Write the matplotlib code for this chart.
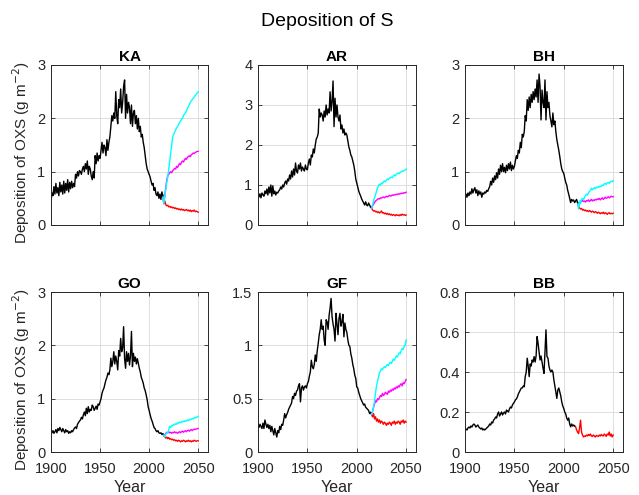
import numpy as np
import matplotlib
matplotlib.use("Agg")
import matplotlib.pyplot as plt
from matplotlib.ticker import FuncFormatter

plt.rcParams['font.family'] = ['Liberation Sans', 'DejaVu Sans']

# ---------------- data ----------------
sites = ["KA", "AR", "BH", "GO", "GF", "BB"]
hist_start = 1900
scen_start = 2014

ka_hist = [0.45,0.60,0.55,0.72,0.58,0.78,0.60,0.70,0.55,0.80,
           0.62,0.75,0.58,0.82,0.60,0.78,0.65,0.85,0.62,0.80,
           0.68,0.82,0.70,0.78,0.72,0.95,0.88,1.00,0.92,1.02,
           1.00,0.95,1.05,1.10,1.00,1.15,1.05,1.20,0.95,1.10,
           1.05,0.92,0.85,1.00,0.88,1.30,1.15,1.35,1.20,1.30,
           1.25,1.40,1.55,1.35,1.50,1.45,1.30,1.60,1.40,1.55,
           1.65,1.85,2.05,1.95,2.10,2.00,2.50,2.05,1.90,2.35,
           2.20,2.55,2.10,2.30,2.60,2.72,2.00,2.45,2.10,2.30,
           2.20,1.90,2.25,1.85,2.10,2.15,1.90,2.05,1.80,2.00,
           1.75,1.85,1.65,1.70,1.55,1.45,1.30,1.15,1.05,1.00,
           0.95,0.90,0.82,0.75,0.78,0.65,0.70,0.58,0.55,0.62,
           0.50,0.58,0.48,0.62,0.55]
ka_cyan = [0.55,0.40,0.55,0.68,0.80,0.90,1.05,1.20,1.35,1.50,1.65,1.70,1.74,1.78,1.82,1.85,1.88,1.92,1.95,
           1.98,2.00,2.05,2.08,2.10,2.14,2.18,2.22,2.26,2.30,2.33,2.35,2.38,2.40,2.43,2.45,2.47,2.50]
ka_mag = [0.55,0.40,0.55,0.70,0.85,0.92,0.95,0.98,1.00,0.98,1.02,1.04,1.06,1.05,1.10,1.08,1.12,1.15,1.13,
          1.18,1.20,1.18,1.22,1.25,1.23,1.27,1.28,1.30,1.28,1.32,1.33,1.35,1.34,1.36,1.37,1.38,1.38]
ka_red = [0.55,0.40,0.45,0.38,0.36,0.37,0.34,0.35,0.33,0.34,0.32,0.33,0.31,0.32,0.30,0.31,0.29,0.30,0.28,
          0.30,0.28,0.29,0.27,0.28,0.29,0.27,0.28,0.26,0.28,0.25,0.27,0.26,0.28,0.25,0.26,0.25,0.24]

ar_hist = [0.72,0.70,0.78,0.68,0.80,0.75,0.72,0.85,0.78,0.90,
           0.75,0.95,0.80,1.00,0.72,0.98,0.78,0.85,0.75,0.82,
           0.80,0.85,0.88,0.95,0.90,1.00,0.95,1.05,1.10,1.02,
           1.15,1.10,1.25,1.15,1.35,1.20,1.40,1.25,1.55,1.35,
           1.30,1.50,1.40,1.55,1.35,1.45,1.40,1.35,1.50,1.40,
           1.38,1.55,1.65,1.50,1.75,1.70,1.90,1.80,2.00,2.15,
           2.20,2.30,2.90,2.70,2.80,2.75,2.60,2.85,2.70,3.00,
           2.75,2.90,2.80,3.33,2.85,3.10,3.60,2.46,3.17,2.70,
           3.00,2.70,2.60,2.75,2.40,2.50,2.30,2.40,2.25,2.30,
           2.25,2.10,1.95,1.87,1.75,1.70,1.60,1.50,1.35,1.15,
           1.05,0.95,0.85,0.78,0.72,0.65,0.60,0.55,0.50,0.58,
           0.50,0.48,0.55,0.50,0.45]
ar_cyan = [0.45,0.42,0.50,0.60,0.68,0.75,0.85,0.92,0.98,1.02,1.00,1.05,1.03,1.08,1.10,1.08,1.12,1.15,1.13,
           1.17,1.18,1.20,1.18,1.22,1.25,1.23,1.27,1.28,1.30,1.28,1.32,1.33,1.35,1.34,1.36,1.38,1.40]
ar_mag = [0.45,0.42,0.48,0.52,0.56,0.60,0.62,0.64,0.66,0.65,0.68,0.67,0.69,0.70,0.68,0.70,0.72,0.70,0.72,
          0.74,0.72,0.73,0.75,0.74,0.76,0.75,0.77,0.76,0.78,0.77,0.79,0.78,0.80,0.79,0.81,0.80,0.82]
ar_red = [0.45,0.42,0.38,0.35,0.36,0.33,0.34,0.31,0.33,0.30,0.32,0.35,0.30,0.31,0.28,0.30,0.27,0.29,0.26,
          0.28,0.25,0.27,0.24,0.26,0.25,0.23,0.26,0.24,0.25,0.23,0.26,0.24,0.27,0.25,0.26,0.24,0.25]

bh_hist = [0.55,0.58,0.52,0.60,0.55,0.62,0.58,0.68,0.60,0.66,
           0.70,0.60,0.66,0.55,0.64,0.58,0.62,0.52,0.60,0.58,
           0.62,0.60,0.65,0.63,0.68,0.72,0.82,0.75,0.88,0.80,
           0.92,0.85,0.98,0.88,1.05,0.95,1.12,1.00,1.15,1.00,
           1.08,0.98,1.12,1.02,1.15,1.05,1.18,1.02,1.12,1.05,
           1.10,1.20,1.30,1.25,1.40,1.35,1.55,1.45,1.70,1.65,
           1.75,2.05,1.95,2.35,2.15,2.40,2.20,2.45,2.30,2.50,
           2.35,2.55,2.40,2.72,2.30,2.83,2.60,1.97,2.53,2.30,
           2.20,2.72,1.97,2.50,2.20,2.30,2.05,1.95,1.84,2.10,
           1.88,1.95,1.75,1.60,1.50,1.40,1.28,1.15,1.05,1.00,
           0.97,0.88,0.80,0.75,0.65,0.58,0.50,0.42,0.48,0.45,
           0.47,0.42,0.45,0.48,0.42]
bh_cyan = [0.42,0.30,0.45,0.40,0.48,0.50,0.47,0.52,0.55,0.58,0.56,0.60,0.63,0.65,0.69,0.66,0.68,0.70,0.68,
           0.71,0.70,0.72,0.71,0.73,0.72,0.75,0.74,0.77,0.78,0.76,0.79,0.80,0.78,0.81,0.82,0.81,0.83]
bh_mag = [0.42,0.35,0.42,0.45,0.44,0.46,0.44,0.45,0.43,0.46,0.45,0.47,0.44,0.46,0.48,0.45,0.47,0.46,0.48,
          0.47,0.49,0.48,0.50,0.47,0.49,0.51,0.48,0.50,0.52,0.50,0.51,0.53,0.51,0.52,0.54,0.53,0.53]
bh_red = [0.42,0.35,0.32,0.30,0.31,0.28,0.29,0.27,0.28,0.26,0.27,0.25,0.27,0.26,0.24,0.26,0.25,0.23,0.25,
          0.24,0.22,0.24,0.23,0.21,0.23,0.22,0.24,0.21,0.23,0.22,0.20,0.22,0.23,0.21,0.22,0.21,0.22]

go_hist = [0.38,0.36,0.40,0.35,0.38,0.42,0.36,0.44,0.40,0.46,
           0.42,0.38,0.44,0.40,0.36,0.42,0.38,0.40,0.35,0.38,
           0.36,0.40,0.38,0.42,0.45,0.47,0.44,0.52,0.55,0.58,
           0.60,0.65,0.62,0.70,0.75,0.68,0.82,0.72,0.85,0.75,
           0.80,0.78,0.88,0.85,0.78,0.82,0.86,0.80,0.90,0.88,
           0.94,1.00,1.10,1.16,1.20,1.28,1.35,1.40,1.48,1.45,
           1.54,1.76,1.60,1.70,1.88,1.65,1.80,1.70,1.54,1.90,
           1.80,2.13,1.88,1.95,2.35,1.75,1.57,1.88,1.70,1.85,
           1.63,1.80,2.26,1.60,1.85,1.70,1.78,1.65,1.75,1.66,
           1.57,1.50,1.40,1.35,1.29,1.20,1.15,1.07,0.98,0.85,
           0.78,0.70,0.63,0.58,0.52,0.46,0.44,0.40,0.38,0.40,
           0.36,0.35,0.36,0.33,0.34]
go_cyan = [0.34,0.30,0.28,0.33,0.36,0.35,0.42,0.48,0.46,0.50,0.49,0.52,0.51,0.53,0.52,0.55,0.54,0.56,0.55,
           0.57,0.56,0.58,0.57,0.59,0.58,0.60,0.59,0.61,0.60,0.62,0.63,0.62,0.64,0.65,0.64,0.66,0.67]
go_mag = [0.34,0.30,0.32,0.35,0.37,0.36,0.38,0.36,0.37,0.35,0.37,0.36,0.38,0.36,0.37,0.35,0.37,0.38,0.36,
          0.38,0.39,0.37,0.39,0.40,0.38,0.40,0.41,0.39,0.41,0.42,0.40,0.42,0.43,0.42,0.43,0.44,0.44]
go_red = [0.34,0.30,0.28,0.26,0.28,0.25,0.27,0.24,0.25,0.23,0.24,0.22,0.23,0.21,0.22,0.20,0.22,0.21,0.19,
          0.21,0.20,0.22,0.21,0.19,0.21,0.20,0.22,0.20,0.21,0.19,0.21,0.20,0.22,0.21,0.20,0.21,0.21]

gf_hist = [0.25,0.23,0.26,0.24,0.22,0.27,0.22,0.30,0.26,0.23,
           0.26,0.22,0.25,0.19,0.24,0.20,0.16,0.22,0.18,0.14,
           0.20,0.18,0.24,0.21,0.26,0.25,0.30,0.36,0.32,0.35,
           0.37,0.40,0.42,0.44,0.46,0.52,0.50,0.55,0.53,0.57,
           0.58,0.62,0.64,0.47,0.60,0.62,0.58,0.61,0.62,0.60,
           0.64,0.66,0.71,0.75,0.86,0.80,0.78,0.82,0.91,0.85,
           0.95,1.02,1.10,1.15,1.24,1.15,1.18,1.05,1.00,1.24,
           1.22,1.15,1.28,1.35,1.44,1.27,1.20,1.15,1.04,1.30,
           1.20,1.10,1.25,1.30,1.18,1.22,1.29,1.08,1.21,1.15,
           1.12,1.05,1.00,0.99,0.92,0.88,0.82,0.78,0.72,0.69,
           0.61,0.60,0.56,0.53,0.50,0.48,0.46,0.44,0.45,0.42,
           0.41,0.40,0.39,0.36,0.37]
gf_cyan = [0.37,0.35,0.38,0.42,0.48,0.55,0.62,0.66,0.70,0.74,0.76,0.78,0.77,0.79,0.80,0.79,0.81,0.82,0.81,
           0.83,0.84,0.83,0.85,0.87,0.86,0.88,0.90,0.89,0.91,0.93,0.92,0.95,0.97,0.96,0.99,1.00,1.05]
gf_mag = [0.37,0.35,0.38,0.42,0.45,0.48,0.47,0.50,0.49,0.51,0.53,0.52,0.55,0.53,0.54,0.56,0.55,0.54,0.57,
          0.56,0.58,0.57,0.59,0.58,0.60,0.59,0.61,0.60,0.62,0.61,0.63,0.64,0.62,0.65,0.64,0.66,0.68]
gf_red = [0.37,0.35,0.33,0.36,0.31,0.33,0.29,0.31,0.28,0.30,0.27,0.29,0.28,0.26,0.28,0.27,0.25,0.27,0.26,
          0.28,0.27,0.25,0.28,0.27,0.29,0.26,0.28,0.27,0.29,0.28,0.26,0.29,0.28,0.30,0.27,0.29,0.28]

bb_hist = [0.11,0.115,0.11,0.12,0.125,0.12,0.13,0.125,0.135,0.14,
           0.135,0.125,0.13,0.135,0.125,0.12,0.115,0.12,0.11,0.115,
           0.11,0.115,0.12,0.125,0.13,0.14,0.135,0.15,0.145,0.16,
           0.165,0.175,0.17,0.19,0.20,0.18,0.19,0.20,0.185,0.195,
           0.20,0.19,0.21,0.205,0.20,0.215,0.225,0.22,0.235,0.243,
           0.25,0.26,0.265,0.275,0.29,0.30,0.31,0.32,0.32,0.33,
           0.326,0.377,0.40,0.469,0.43,0.377,0.44,0.43,0.46,0.45,
           0.477,0.45,0.48,0.577,0.544,0.50,0.46,0.48,0.45,0.42,
           0.393,0.50,0.611,0.477,0.47,0.43,0.41,0.40,0.41,0.40,
           0.36,0.33,0.30,0.268,0.31,0.32,0.30,0.28,0.25,0.23,
           0.218,0.20,0.19,0.17,0.159,0.17,0.14,0.126,0.14,0.13,
           0.135,0.13]
bb_red_start = 2011
bb_red = [0.13,0.126,0.11,0.10,0.092,0.12,0.159,0.10,0.085,0.075,0.08,0.078,0.085,0.08,0.088,0.082,0.09,0.08,
          0.078,0.085,0.08,0.075,0.083,0.08,0.078,0.085,0.08,0.088,0.082,0.08,0.09,0.085,0.078,0.09,
          0.085,0.10,0.08,0.09,0.075,0.085]

hist = {"KA": ka_hist, "AR": ar_hist, "BH": bh_hist, "GO": go_hist, "GF": gf_hist, "BB": bb_hist}
cyan = {"KA": ka_cyan, "AR": ar_cyan, "BH": bh_cyan, "GO": go_cyan, "GF": gf_cyan}
mag = {"KA": ka_mag, "AR": ar_mag, "BH": bh_mag, "GO": go_mag, "GF": gf_mag}
red = {"KA": ka_red, "AR": ar_red, "BH": bh_red, "GO": go_red, "GF": gf_red}
ylims = {"KA": 3, "AR": 4, "BH": 3, "GO": 3, "GF": 1.5, "BB": 0.8}
yticks = {"KA": [0, 1, 2, 3], "AR": [0, 1, 2, 3, 4], "BH": [0, 1, 2, 3],
          "GO": [0, 1, 2, 3], "GF": [0, 0.5, 1, 1.5], "BB": [0, 0.2, 0.4, 0.6, 0.8]}
xticks = [1900, 1950, 2000, 2050]

# ---------------- figure ----------------
W, H = 639, 495
fig = plt.figure(figsize=(W / 100, H / 100), dpi=100)

cols_px = [(51, 208), (258, 416), (465, 623)]
rows_px = [(65, 225), (292, 452)]
axcol = (0.15, 0.15, 0.15)
LW = 1.0

for i, s in enumerate(sites):
    r, c = divmod(i, 3)
    x0, x1 = cols_px[c]
    y0, y1 = rows_px[r]
    ax = fig.add_axes([x0 / W, 1 - y1 / H, (x1 - x0) / W, (y1 - y0) / H])
    yrs_h = np.arange(hist_start, hist_start + len(hist[s]))
    if s in cyan:
        yrs_s = np.arange(scen_start, scen_start + len(red[s]))
        ax.plot(yrs_s, red[s], color=(1, 0, 0), lw=LW)
        ax.plot(yrs_s, mag[s], color=(1, 0, 1), lw=LW)
        ax.plot(yrs_s, cyan[s], color=(0, 1, 1), lw=LW)
    else:
        yrs_s = np.arange(bb_red_start, bb_red_start + len(bb_red))
        ax.plot(yrs_s, bb_red, color=(1, 0, 0), lw=LW)
    ax.plot(yrs_h, hist[s], color='k', lw=LW)

    ax.set_xlim(1900, 2060)
    ax.set_ylim(0, ylims[s])
    ax.set_xticks(xticks)
    ax.set_yticks(yticks[s])
    ax.yaxis.set_major_formatter(FuncFormatter(lambda v, p: "%g" % v))
    ax.grid(True, color=(0.87, 0.87, 0.87), lw=0.7)
    ax.set_axisbelow(True)
    ax.tick_params(direction='in', top=True, right=True, length=3, width=0.6,
                   colors=axcol, labelsize=10.5, labelcolor=axcol)
    ax.tick_params(axis='x', pad=7)
    ax.tick_params(axis='y', pad=4)
    for sp in ax.spines.values():
        sp.set_color(axcol)
        sp.set_linewidth(0.7)
    ax.set_title(s, fontsize=11, fontweight='bold', pad=3, color='k')
    if r == 0:
        ax.set_xticklabels([])
    else:
        ax.set_xlabel("Year", fontsize=11.5, color=axcol, labelpad=3)
    if c == 0:
        ax.set_ylabel("Deposition of OXS (g m$^{-2}$)", fontsize=11, color=axcol)
        ax.yaxis.set_label_coords(-0.12, 0.45)

fig.text(327 / W, 1 - 21 / H, "Deposition of S", ha='center', va='center', fontsize=14, color='k')

fig.savefig("out.png", dpi=100)
